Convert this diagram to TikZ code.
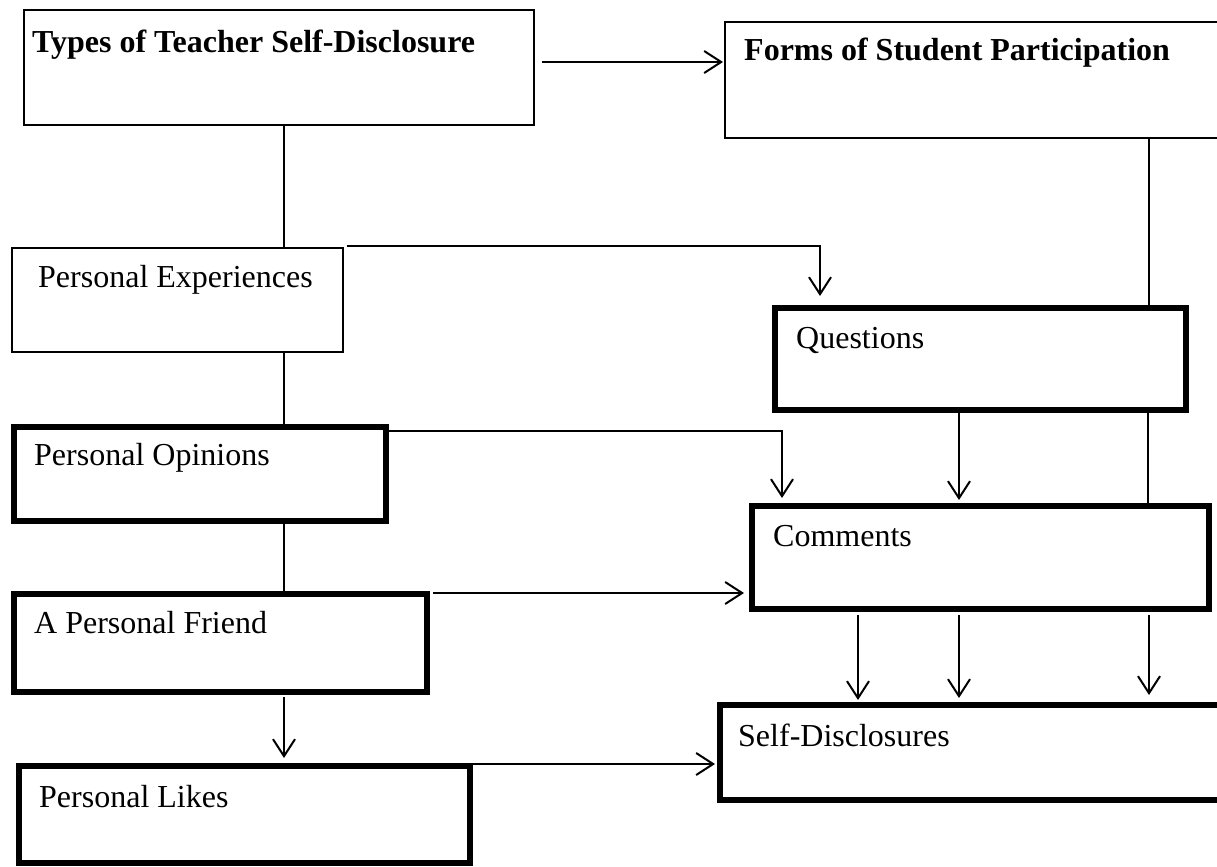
\documentclass[tikz,border=0pt]{standalone}
\usepackage{fontspec}
\setmainfont{Liberation Serif}
\usetikzlibrary{calc,arrows.meta}
\tikzset{
  box/.style={draw=black, rectangle, inner sep=0pt, outer sep=0pt, anchor=north west},
  thinbox/.style={box, line width=2.5bp},
  lightbox/.style={box, line width=2bp},
  heavybox/.style={box, line width=6bp},
  lbl/.style={anchor=base west, inner sep=0pt, font=\fontsize{32bp}{38bp}\selectfont},
  blbl/.style={lbl, font=\fontsize{32bp}{38bp}\selectfont\bfseries},
  conn/.style={draw=black, line width=2bp},
  arr/.style={conn, -{Straight Barb[length=17bp,width=22bp]}}
}
\begin{document}
\begin{tikzpicture}[x=1bp,y=-1bp]
\useasboundingbox (0,0) rectangle (1217,867);
\fill[white] (0,0) rectangle (1217,867);
\clip (0,0) rectangle (1217,867);

% boxes
\node[thinbox, minimum width=510bp, minimum height=115bp] (types) at (24,10) {};
\node[thinbox, minimum width=515bp, minimum height=116bp] (forms) at (725,22) {};
\node[lightbox, minimum width=331bp, minimum height=104bp] (exp) at (12,248) {};
\node[heavybox, minimum width=411bp, minimum height=102bp] (ques) at (775,308) {};
\node[heavybox, minimum width=372bp, minimum height=94bp] (opin) at (14,427) {};
\node[heavybox, minimum width=457bp, minimum height=103bp] (comm) at (752,506) {};
\node[heavybox, minimum width=413bp, minimum height=98bp] (friend) at (14,594) {};
\node[heavybox, minimum width=520bp, minimum height=95bp] (selfd) at (720,705) {};
\node[heavybox, minimum width=451bp, minimum height=97bp] (likes) at (19,766) {};

% labels
\node[blbl] (types-t) at ($(types.north west)+(8,42)$) {Types of Teacher Self-Disclosure};
\node[blbl] (forms-t) at ($(forms.north west)+(19,38)$) {Forms of Student Participation};
\node[lbl] (exp-t) at ($(exp.north west)+(26,39)$) {Personal Experiences};
\node[lbl] (ques-t) at ($(ques.north west)+(21,40)$) {Questions};
\node[lbl] (opin-t) at ($(opin.north west)+(20,38)$) {Personal Opinions};
\node[lbl] (comm-t) at ($(comm.north west)+(21,40)$) {Comments};
\node[lbl] (friend-t) at ($(friend.north west)+(20,39)$) {A Personal Friend};
\node[lbl] (likes-t) at ($(likes.north west)+(20,41)$) {Personal Likes};
\node[lbl] (selfd-t) at ($(selfd.north west)+(18,41)$) {Self-Disclosures};

% left spine
\coordinate (spine) at (284,0);
\draw[conn] (spine |- types.south) -- (spine |- exp.north);
\draw[conn] (spine |- exp.south) -- (spine |- opin.north);
\draw[conn] (spine |- opin.south) -- (spine |- friend.north);
\draw[arr] ($(spine |- friend.south)+(0,5)$) -- ($(spine |- likes.north)+(0,-8)$);

% top arrow
\draw[arr] ($(types.north east)+(8,52)$) -- ($(forms.north west)+(-2,40)$);

% right spine
\draw[conn] ($(forms.south west)+(424,0)$) -- ($(ques.north west)+(374,0)$);
\draw[conn] ($(ques.south west)+(373,0)$) -- ($(comm.north west)+(396,0)$);

% elbow arrows
\draw[arr] ($(exp.north east)+(4,-2)$) -| ($(ques.north west)+(45,-12)$);
\draw[arr] ($(opin.north east)+(3,4)$) -| ($(comm.north west)+(30,-8)$);

% questions to comments
\draw[arr] ($(ques.south west)+(184,3)$) -- ($(comm.north west)+(207,-6)$);

% horizontal arrows
\draw[arr] ($(friend.north east)+(6,-1)$) -- ($(comm.north west)+(-8,87)$);
\draw[arr] ($(likes.north east)+(3,-2)$) -- ($(selfd.north west)+(-5,59)$);

% comments to self-disclosures
\draw[arr] ($(comm.south west)+(106,6)$) -- ($(selfd.north west)+(138,-5)$);
\draw[arr] ($(comm.south west)+(207,6)$) -- ($(selfd.north west)+(239,-7)$);
\draw[arr] ($(comm.south west)+(397,6)$) -- ($(selfd.north west)+(429,-10)$);
\end{tikzpicture}
\end{document}
